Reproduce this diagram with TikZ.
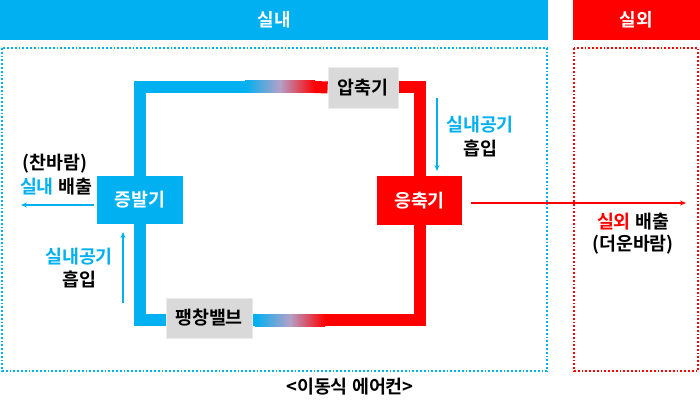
\documentclass[tikz,border=0pt]{standalone}
\usepackage{fontspec}
\setmainfont{Noto Sans CJK KR Bold}
\usetikzlibrary{arrows.meta,backgrounds}
\definecolor{cblue}{HTML}{00B0F0}
\definecolor{cred}{HTML}{FF0000}
\definecolor{cmid}{HTML}{B4A0C8}
\definecolor{cgray}{HTML}{D9D9D9}
\definecolor{cgrayb}{HTML}{EBEBEB}
\pgfdeclarehorizontalshading{pipegrad}{100bp}{color(0bp)=(cblue); color(25bp)=(cblue); color(50bp)=(cmid); color(75bp)=(cred); color(100bp)=(cred)}
\begin{document}
\begin{tikzpicture}[x=1pt,y=-1pt,
  txt/.style={font=\fontsize{18.4}{21}\selectfont, inner sep=0pt, align=center},
  header/.style={inner sep=0pt, text=white, font=\fontsize{18}{21}\selectfont},
  graybox/.style={fill=cgray, draw=cgrayb, line width=0.8pt, minimum width=70pt, minimum height=41pt, inner sep=0pt, font=\fontsize{18.4}{21}\selectfont},
  unitbox/.style={minimum width=86pt, minimum height=48pt, inner sep=0pt, text=white, font=\fontsize{18.4}{21}\selectfont},
  pipeB/.style={draw=cblue, line width=12pt},
  pipeR/.style={draw=cred, line width=12pt},
  flow/.style={line width=1.5pt, -{Stealth[length=6pt,width=5pt]}},
  zone/.style={dotted, line width=1.8pt}
]
\useasboundingbox (0,0) rectangle (700,411);
% headers
\fill[cblue] (0,0) rectangle (548,40);
\node[header] (hin) at (274,20) {실내};
\fill[cred] (573,0) rectangle (700,40);
\node[header] (hout) at (636.5,20) {실외};
% zones
\draw[zone, cblue] (2,48) rectangle (547,371);
\draw[zone, cred] (574,48) rectangle (698,371);
% units
\node[graybox] (comp) at (363,87.5) {압축기};
\node[unitbox, fill=cred, minimum width=85pt, minimum height=49pt] (cond) at (419.5,200.5) {응축기};
\node[unitbox, fill=cblue] (evap) at (140,200) {증발기};
\node[graybox, minimum width=86pt, minimum height=40pt] (valve) at (209,318) {팽창밸브};
% pipe coordinates
\coordinate (gA) at (245,87);
\coordinate (gB) at (315,87);
\coordinate (gC) at (325,320);
\coordinate (gD) at (255,320);
% pipes
\begin{scope}[on background layer]
\draw[pipeB] (evap.north) |- (gA);
\shade[shading=pipegrad] (245,81) rectangle (315,93);
\draw[pipeR] (gB) -- (comp.west);
\draw[pipeR] (comp.east) -| (cond.north);
\draw[pipeR] (cond.south) |- (gC);
\shade[shading=pipegrad] (255,314) rectangle (325,326);
\draw[pipeB] (gD) -- (valve.east |- gD);
\draw[pipeB] (valve.west |- gD) -| (evap.south);
\end{scope}
% air flows
\coordinate (f1s) at (437,98);
\coordinate (f1e) at (437,171);
\draw[flow, cblue] (f1s) -- (f1e);
\coordinate (f2s) at (94,205);
\coordinate (f2e) at (21,205);
\draw[flow, cblue] (f2s) -- (f2e);
\coordinate (f3s) at (123,303);
\coordinate (f3e) at (123,232);
\draw[flow, cblue] (f3s) -- (f3e);
\coordinate (f4s) at (471,203);
\coordinate (f4e) at (686,203);
\draw[flow, cred, line width=1.3pt] (f4s) -- (f4e);
% labels
\node[txt, text=cblue] (t1a) at (480,125) {실내공기};
\node[txt] (t1b) at (480,148) {흡입};
\node[txt] (t2a) at (55,164) {(찬바람)};
\node[txt] (t2b) at (56,187) {\textcolor{cblue}{실내} 배출};
\node[txt, text=cblue] (t3a) at (79,257) {실내공기};
\node[txt] (t3b) at (79,279) {흡입};
\node[txt] (t4a) at (633,222) {\textcolor{cred}{실외} 배출};
\node[txt] (t4b) at (633,245) {(더운바람)};
\node[txt] (cap) at (350,387) {<이동식 에어컨>};
\end{tikzpicture}
\end{document}
